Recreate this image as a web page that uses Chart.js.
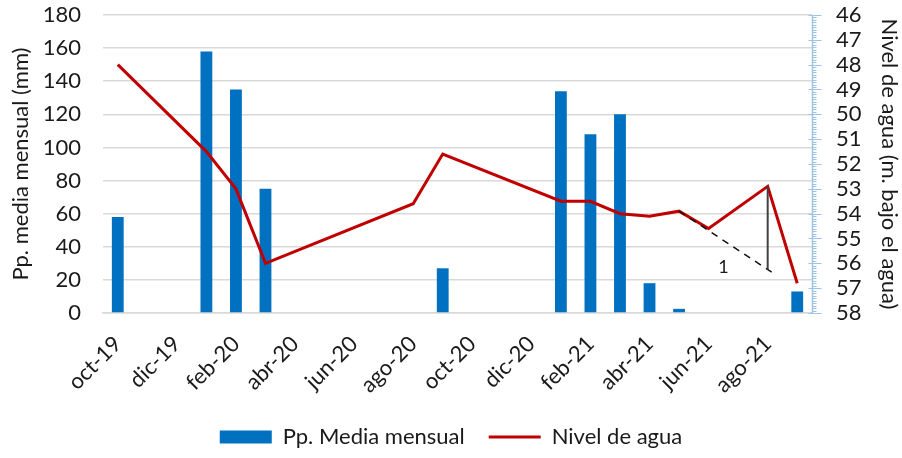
<!DOCTYPE html>
<html>
<head>
<meta charset="utf-8">
<script src="https://cdn.jsdelivr.net/npm/chart.js@4"></script>
<style>
  html, body { margin: 0; padding: 0; background: #fff; }
  #wrap { width: 902px; height: 458px; position: relative; }
</style>
</head>
<body>
<div id="wrap"><canvas id="chart"></canvas></div>
<script>
// Monthly rainfall vs. water level, oct-19 to sep-21
const months = ['oct-19', 'nov-19', 'dic-19', 'ene-20', 'feb-20', 'mar-20', 'abr-20', 'may-20',
  'jun-20', 'jul-20', 'ago-20', 'sep-20', 'oct-20', 'nov-20', 'dic-20', 'ene-21',
  'feb-21', 'mar-21', 'abr-21', 'may-21', 'jun-21', 'jul-21', 'ago-21', 'sep-21'];

// Pp. media mensual (mm)
const rain = [58, 0, 0, 158, 135, 75, 0, 0, 0, 0, 0, 27, 0, 0, 0, 134, 108, 120, 18, 2.5, 0, 0, 0, 13];

// Nivel de agua (m bajo el agua), gaps where nothing was measured
const level = [48.0, null, null, 51.5, 53.0, 56.0, null, null, null, null, 53.6, 51.6,
  null, null, null, 53.5, 53.5, 54.0, 54.1, 53.9, 54.6, null, 52.9, 56.8];

// Slope sketch: dashed trend from may-21, vertical drop at ago-21
const slopeStart = ['may-21', 53.9];
const slopeEnd = ['ago-21', 56.25];
const slopeTop = 52.9;
const slopeLabel = '1';

const levelTicks = [46, 58];

const BLUE = '#0070c0';
const RED = '#c00000';
const TEXT = '#1a1a1a';
const GRID = '#d9d9d9';
const AXIS_BLUE = '#9dc3e6';
const FONT = 'Lato, "Open Sans", sans-serif';
const FS = 22;

// right axis line with major/minor ticks like the spreadsheet one
const levelAxisTicks = {
  id: 'levelAxisTicks',
  afterDraw(chart) {
    const { ctx, chartArea } = chart;
    const s = chart.scales.y2;
    const x = chartArea.right + 0.5;
    ctx.save();
    ctx.strokeStyle = AXIS_BLUE;
    ctx.lineWidth = 1.5;
    ctx.beginPath();
    ctx.moveTo(x, s.getPixelForValue(levelTicks[0]));
    ctx.lineTo(x, s.getPixelForValue(levelTicks[1]));
    ctx.stroke();
    ctx.lineWidth = 1;
    for (let i = levelTicks[0] * 10; i <= levelTicks[1] * 10; i++) {
      const y = Math.round(s.getPixelForValue(i / 10)) + 0.5;
      const major = i % 10 === 0;
      ctx.beginPath();
      ctx.moveTo(major ? x - 4 : x, y);
      ctx.lineTo(major ? x + 9 : x + 4, y);
      ctx.stroke();
    }
    ctx.restore();
  }
};

// dashed trend segment, vertical leg and its label
const slopeSketch = {
  id: 'slopeSketch',
  afterDatasetsDraw(chart) {
    const { ctx } = chart;
    const xs = chart.scales.x, ys = chart.scales.y2;
    const x0 = xs.getPixelForValue(months.indexOf(slopeStart[0]));
    const y0 = ys.getPixelForValue(slopeStart[1]);
    const x1 = xs.getPixelForValue(months.indexOf(slopeEnd[0]));
    const y1 = ys.getPixelForValue(slopeEnd[1]);
    const yTop = ys.getPixelForValue(slopeTop);
    ctx.save();
    ctx.strokeStyle = '#111';
    ctx.lineWidth = 1.5;
    ctx.setLineDash([7, 6]);
    ctx.beginPath();
    ctx.moveTo(x0, y0);
    ctx.lineTo(x1 + 4, y1 + 2.6);
    ctx.stroke();
    ctx.setLineDash([]);
    ctx.strokeStyle = '#404040';
    ctx.lineWidth = 2;
    ctx.beginPath();
    ctx.moveTo(x1, yTop);
    ctx.lineTo(x1, y1);
    ctx.stroke();
    ctx.fillStyle = TEXT;
    ctx.font = '18px ' + FONT;
    ctx.textAlign = 'center';
    ctx.textBaseline = 'middle';
    ctx.fillText(slopeLabel, (x0 + x1) / 2, y1 - 2);
    ctx.restore();
  }
};

new Chart(document.getElementById('chart'), {
  data: {
    labels: months,
    datasets: [
      {
        type: 'bar',
        label: 'Pp. Media mensual',
        data: rain,
        backgroundColor: BLUE,
        yAxisID: 'y',
        order: 1,
        categoryPercentage: 1,
        barPercentage: 0.4,
        pointStyle: 'rect',
      },
      {
        type: 'line',
        label: 'Nivel de agua',
        data: level,
        borderColor: RED,
        backgroundColor: RED,
        borderWidth: 3,
        pointRadius: 0,
        spanGaps: true,
        tension: 0,
        yAxisID: 'y2',
        order: 0,
        pointStyle: 'line',
      },
    ],
  },
  options: {
    responsive: true,
    maintainAspectRatio: false,
    animation: false,
    layout: { padding: { top: 15, bottom: 0 } },
    plugins: {
      tooltip: { enabled: false },
      legend: {
        position: 'bottom',
        labels: {
          usePointStyle: true,
          pointStyleWidth: 52,
          boxHeight: 13,
          padding: 24,
          color: TEXT,
          font: { family: FONT, size: FS },
          sort: (a, b) => a.datasetIndex - b.datasetIndex,
        },
      },
    },
    scales: {
      x: {
        grid: { display: false },
        border: { display: true, color: GRID, width: 1.5 },
        ticks: {
          autoSkip: false,
          maxRotation: 45,
          minRotation: 45,
          padding: 10,
          color: TEXT,
          font: { family: FONT, size: FS },
          callback: (v, i) => (i % 2 === 0 ? months[i] : ''),
        },
        afterFit: (s) => { s.height -= 6; },
      },
      y: {
        position: 'left',
        min: 0,
        max: 180,
        ticks: { stepSize: 20, padding: 0, color: TEXT, font: { family: FONT, size: FS } },
        grid: { color: GRID, lineWidth: 1.5, drawTicks: true, tickLength: 22, tickColor: 'transparent' },
        border: { display: false },
        title: {
          display: true,
          text: 'Pp. media mensual (mm)',
          color: TEXT,
          font: { family: FONT, size: FS },
          padding: { top: 8, bottom: 0 },
        },
        afterFit: (s) => { s.width = 103; },
      },
      y2: {
        position: 'right',
        reverse: true,
        min: 46,
        max: 58,
        ticks: { stepSize: 1, autoSkip: false, padding: 0, color: TEXT, font: { family: FONT, size: FS } },
        grid: { display: true, drawOnChartArea: false, drawTicks: true, tickLength: 24, tickColor: 'transparent' },
        border: { display: false },
        title: {
          display: true,
          text: 'Nivel de agua (m. bajo el agua)',
          color: TEXT,
          font: { family: FONT, size: FS },
          padding: { top: 0, bottom: 0 },
        },
        afterFit: (s) => { s.width = 90; },
      },
    },
  },
  plugins: [levelAxisTicks, slopeSketch],
});
</script>
</body>
</html>
